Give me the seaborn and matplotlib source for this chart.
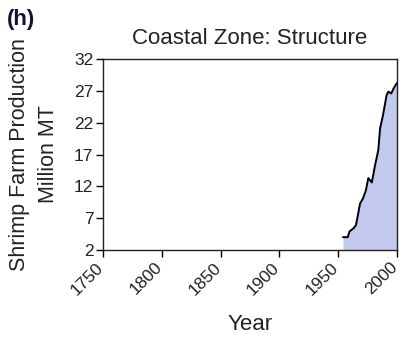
import numpy as np
import pandas as pd
import matplotlib
matplotlib.use("Agg")
import matplotlib.pyplot as plt
import matplotlib.transforms as mtransforms
import seaborn as sns

# ── data ────────────────────────────────────────────────────────────────────
years = [1954, 1958, 1959.5, 1963, 1965, 1967, 1968.5, 1971, 1973.5, 1975.5,
         1978.5, 1981, 1984, 1985.5, 1988, 1991, 1992.5, 1995, 1997, 2000]
shrimp = [4.0, 4.0, 4.9, 5.4, 5.9, 7.8, 9.3, 10.1, 11.4, 13.3,
          12.6, 15.1, 17.7, 21.1, 23.2, 26.3, 26.9, 26.6, 27.4, 28.3]
x_ticks = [1750, 1800, 1850, 1900, 1950, 2000]
y_ticks = [2, 7, 12, 17, 22, 27, 32]

df = pd.DataFrame({"Year": years, "Shrimp": shrimp})

sns.set_theme(style="ticks")
plt.rcParams["font.family"] = ["Liberation Sans", "DejaVu Sans"]

fig = plt.figure(figsize=(4.04, 3.4), dpi=100)
ax = fig.add_axes([0.255, 0.265, 0.728, 0.561])

ax.fill_between(df["Year"], 2, df["Shrimp"], color="#c3c9ef", lw=0)
sns.lineplot(data=df, x="Year", y="Shrimp", ax=ax, color="black", lw=1.4)

ax.set_xlim(1750, 2000)
ax.set_ylim(2, 32)
ax.set_xticks(x_ticks)
ax.set_yticks(y_ticks)
ax.set_xticklabels([str(t) for t in x_ticks], rotation=45, ha="right")
ax.tick_params(labelsize=12.5, length=5, width=1, color="black",
               labelcolor="#222222", pad=2)
# nudge rotated year labels a touch to the right, like the original
shift = mtransforms.ScaledTranslation(3 / 100, 0, fig.dpi_scale_trans)
for lab in ax.get_xticklabels():
    lab.set_transform(lab.get_transform() + shift)
for s in ax.spines.values():
    s.set_color("#222222")
    s.set_linewidth(1.0)

ax.set_xlabel("Year", fontsize=16, color="#222222", labelpad=12)
ax.set_ylabel("Shrimp Farm Production\nMillion MT", fontsize=15.5,
              color="#222222", linespacing=1.45, labelpad=11)
ax.set_title("Coastal Zone: Structure", fontsize=16, color="#222222", pad=11)

fig.text(0.017, 0.975, "(h)", fontsize=16, fontweight="bold",
         color="#111133", va="top", ha="left")

fig.savefig("out.png", dpi=100)
